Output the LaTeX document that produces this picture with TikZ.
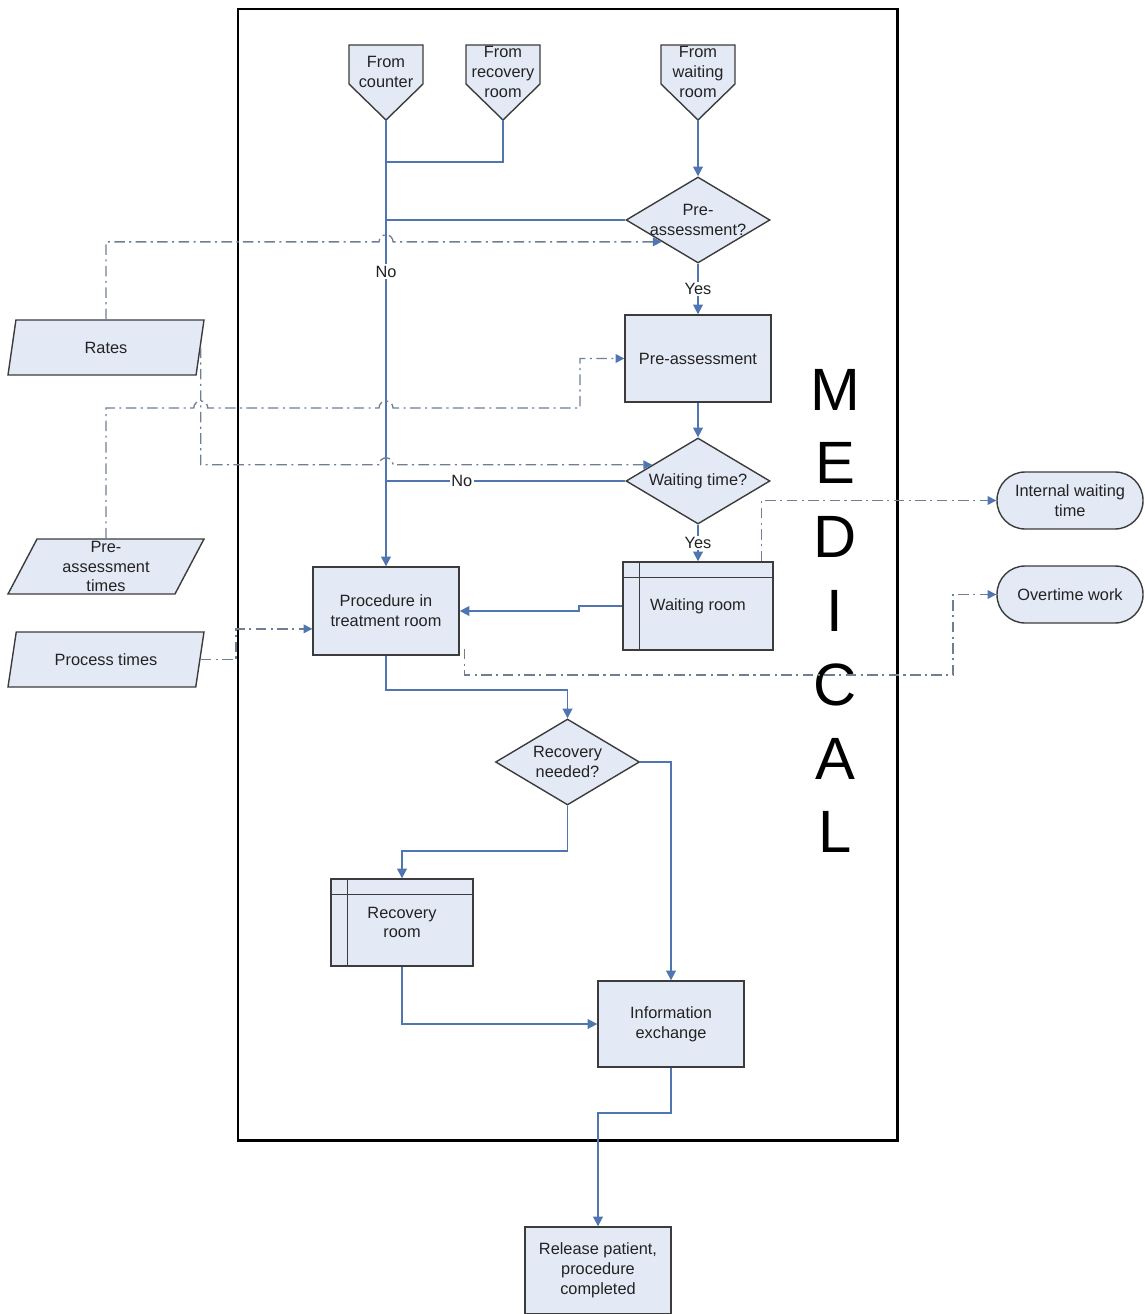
\documentclass[tikz,border=0pt]{standalone}
\usepackage{fontspec}
\setmainfont{Liberation Sans}
\usetikzlibrary{arrows.meta,shapes.geometric,calc}
\definecolor{boxfill}{RGB}{228,234,245}
\definecolor{boxline}{RGB}{60,60,60}
\definecolor{flow}{RGB}{79,118,176}
\definecolor{datafl}{RGB}{112,126,148}
\definecolor{ink}{RGB}{34,34,34}
\newcommand\pxu{0.02cm}
% off-page connector: pentagon pointing down, text node and tip coordinate
\newcommand\fromnode[3]{%
  \filldraw[boxedge, fill=boxfill] (#2-37,-45) -- (#2+37,-45) -- (#2+37,-84)
    -- (#2,-120) -- (#2-37,-84) -- cycle;
  \node[align=center] (#1) at (#2,-72) {#3};
  \coordinate (#1-tip) at (#2,-120);}

\begin{document}
\begin{tikzpicture}[x=0.02cm,y=0.02cm,
  every node/.style={font=\fontsize{9.3}{11.3}\selectfont, text=ink},
  boxedge/.style={draw=boxline, line width=0.8pt},
  boxbase/.style={boxedge, fill=boxfill, align=center, inner sep=2pt},
  procbox/.style={boxbase, rectangle, minimum width=146*\pxu, minimum height=87*\pxu},
  roombox/.style={boxbase, rectangle, minimum width=#1*\pxu, minimum height=87*\pxu},
  decbox/.style={boxbase, diamond, minimum width=144*\pxu, minimum height=86*\pxu, inner sep=0pt},
  iobox/.style={boxbase, trapezium, trapezium left angle=62, trapezium right angle=118,
    trapezium stretches body, minimum width=196*\pxu, minimum height=55*\pxu, inner sep=1pt},
  termbox/.style={boxbase, rectangle, rounded corners=16pt, minimum width=146*\pxu, minimum height=57*\pxu},
  conn/.style={draw=flow, line width=1pt, -{Triangle[length=5.5pt,width=5.5pt]}},
  joinline/.style={draw=flow, line width=1pt},
  dd/.style={draw=datafl, line width=0.75pt, dash pattern=on 6pt off 2.5pt on 1.2pt off 2.5pt,
    -{Triangle[length=5pt,width=5pt,color=flow]}},
  lbl/.style={fill=white, inner sep=1pt},
  zone/.style={draw=black, line width=1.7pt, minimum width=659*\pxu, minimum height=1131*\pxu, inner sep=0pt}
]
\useasboundingbox (0,0) rectangle (1144,-1314);

% department frame and its title
\node[zone] (medical-zone) at (567.5,-574.5) {};
\node[font=\fontsize{34}{42}\selectfont, align=center, text=black] (medical) at (835,-611)
  {M\\E\\D\\I\\C\\A\\L};

% entry points
\fromnode{fc}{386}{From\\counter}
\fromnode{fr}{503}{From\\recovery\\room}
\fromnode{fw}{698}{From\\waiting\\room}

% process steps and decisions
\node[decbox, label={[align=center]center:Pre-\\assessment?}] (pq) at (698,-220) {};
\node[procbox] (pa) at (698,-358.5) {Pre-assessment};
\node[decbox, label={[align=center]center:Waiting time?}] (wt) at (698,-481) {};
\node[roombox=150, minimum height=88*\pxu] (wr) at (698,-606) {Waiting room};
\node[procbox, minimum height=88*\pxu] (pr) at (386,-611) {Procedure in\\treatment room};
\node[decbox, label={[align=center]center:Recovery\\needed?}] (rn) at (567.5,-762) {};
\node[roombox=142] (rr) at (402,-922.5) {Recovery\\room};
\node[procbox, minimum height=86*\pxu] (ie) at (671,-1024) {Information\\exchange};
\node[procbox] (rp) at (598,-1270.5) {Release patient,\\procedure\\completed};

% header bands of the room boxes
\foreach \n in {wr,rr} {
  \draw[boxedge] ($(\n.north west)+(17,0)$) -- ($(\n.south west)+(17,0)$);
  \draw[boxedge] ($(\n.north west)+(0,-16)$) -- ($(\n.north east)+(0,-16)$);
}

% data inputs and outputs
\node[iobox] (rates) at (106,-347.5) {Rates};
\node[iobox] (pat) at (106,-566.5) {Pre-\\assessment\\times};
\node[iobox] (pt) at (106,-659.5) {Process times};
\node[termbox] (iwt) at (1070,-500.5) {Internal waiting\\time};
\node[termbox] (ot) at (1070,-594.5) {Overtime work};

% patient flow
\draw[conn] (fc-tip) -- (pr.north) node[lbl, pos=0.34] {No};
\draw[joinline] (fr-tip) |- ($(fc-tip)+(0,-42)$);
\draw[conn] (fw-tip) -- (pq.north);
\draw[joinline] (pq.west) -- (pq.west -| fc-tip);
\draw[conn] (pq.south) -- (pa.north) node[lbl, midway] {Yes};
\draw[conn] (pa.south) -- (wt.north);
\draw[joinline] (wt.west) -- (wt.west -| fc-tip) node[lbl, pos=0.683] {No};
\draw[conn] (wt.south) -- (wr.north) node[lbl, midway] {Yes};
\draw[conn] (wr.west) -- ++(-43,0) |- (pr.east);
\draw[conn] (pr.south) -- ++(0,-34) -| (rn.north);
\draw[conn] (rn.south) -- ++(0,-45) -| (rr.north);
\draw[conn] (rn.east) -| (ie.north);
\draw[conn] (rr.south) |- (ie.west);
\draw[conn] (ie.south) -- ++(0,-45) -| (rp.north);

% data flow (dash-dot), hopping over crossed lines
\coordinate (pq-in) at ($(pq.west)!0.5!(pq.south)$);
\coordinate (wt-in) at ($(wt.west)!0.37!(wt.north)$);
\coordinate (pr-in) at ($(pr.south west)!0.3!(pr.north west)$);
\coordinate (cbend) at (580,-408);
\coordinate (dbend) at (236,0);
\coordinate (fbend) at (953,-675);

\draw[dd] (rates.north) |- ($(fc-tip |- pq-in)+(-7,0)$)
  arc[start angle=180, end angle=0, radius=4pt] -- (pq-in);
\draw[dd] (rates.east) |- ($(fc-tip |- wt-in)+(-7,0)$)
  arc[start angle=180, end angle=0, radius=4pt] -- (wt-in);
\draw[dd] (pat.north) |- ($(rates.east |- cbend)+(-7,0)$)
  arc[start angle=180, end angle=0, radius=4pt] -- ($(fc-tip |- cbend)+(-7,0)$)
  arc[start angle=180, end angle=0, radius=4pt] -- (cbend) |- (pa.west);
\draw[dd] (pt.east) -| (dbend |- pr-in) -- (pr-in);
\draw[dd] ($(wr.north east)+(-12,0)$) |- (iwt.west);
\draw[dd] ($(pr.south east)+(5,7)$) |- (fbend) |- (ot.west);
\end{tikzpicture}
\end{document}
